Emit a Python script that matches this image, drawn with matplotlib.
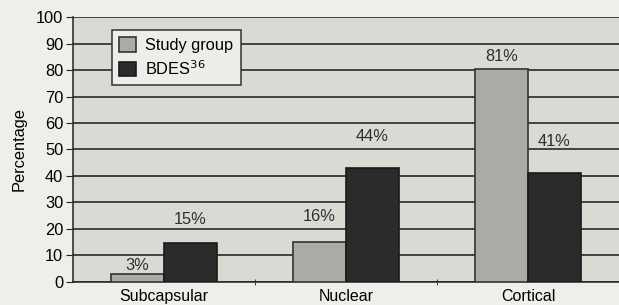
import matplotlib
matplotlib.use("Agg")
import matplotlib.pyplot as plt
import numpy as np

categories = ["Subcapsular", "Nuclear", "Cortical"]
study_group = [3, 15, 80.5]
bdes = [14.5, 43, 41]
study_labels = ["3%", "16%", "81%"]
bdes_labels = ["15%", "44%", "41%"]
yticks = list(range(0, 101, 10))

plt.rcParams['font.family'] = ['Liberation Sans', 'DejaVu Sans']
FS = 11.8

fig = plt.figure(figsize=(6.19, 3.05), dpi=100)
fig.patch.set_facecolor('#eeefeb')
ax = fig.add_axes([0.118, 0.0764, 0.882, 0.867])
ax.set_facecolor('#d8dbd4')

x = np.arange(len(categories))
w = 0.29
ax.bar(x - w/2, study_group, w, color='#a9aba7', edgecolor='#333333', linewidth=1.2, zorder=3, label='Study group')
ax.bar(x + w/2, bdes, w, color='#2b2b2b', edgecolor='#1a1a1a', linewidth=1.2, zorder=3, label='BDES$^{36}$')

# label offsets above bar tops (pixels)
study_off = [8, 26, 12]
bdes_off = [24, 31, 32]
for xi, v, lab, off in zip(x - w/2, study_group, study_labels, study_off):
    ax.annotate(lab, (xi, v), xytext=(0, off), textcoords='offset pixels', ha='center', va='center',
                fontsize=FS, color='#2e2e2e')
for xi, v, lab, off in zip(x + w/2, bdes, bdes_labels, bdes_off):
    ax.annotate(lab, (xi, v), xytext=(0, off), textcoords='offset pixels', ha='center', va='center',
                fontsize=FS, color='#2e2e2e')

ax.set_ylim(0, 100)
ax.set_xlim(-0.5, 2.5)
ax.set_yticks(yticks)
ax.yaxis.grid(True, color='#1a1a1a', linewidth=1.1, zorder=1)
ax.set_axisbelow(True)
ax.set_xticks(x)
ax.set_xticklabels(categories, fontsize=11.5)
ax.set_xticks([0.5, 1.5], minor=True)
ax.tick_params(axis='x', which='major', length=0, pad=5)
ax.tick_params(axis='x', which='minor', length=4, direction='inout', color='#222222')
ax.tick_params(axis='y', length=5, direction='out', labelsize=FS, color='#222222', pad=2)
for s in ['top', 'right']:
    ax.spines[s].set_visible(False)
ax.spines['left'].set_color('#222222')
ax.spines['bottom'].set_color('#222222')
ax.spines['left'].set_linewidth(1.1)
ax.spines['bottom'].set_linewidth(1.1)
ax.set_ylabel('Percentage', fontsize=FS, labelpad=7)

leg = ax.legend(loc='upper left', bbox_to_anchor=(0.071, 0.952), fontsize=FS, frameon=True, fancybox=False,
                handlelength=1.0, handleheight=1.0, borderpad=0.45, labelspacing=0.35, handletextpad=0.6,
                borderaxespad=0)
leg.get_frame().set_facecolor('#eceee9')
leg.get_frame().set_edgecolor('#333333')
leg.get_frame().set_linewidth(1.1)
leg.get_frame().set_alpha(1)

fig.savefig('out.png', dpi=100, facecolor=fig.get_facecolor())
